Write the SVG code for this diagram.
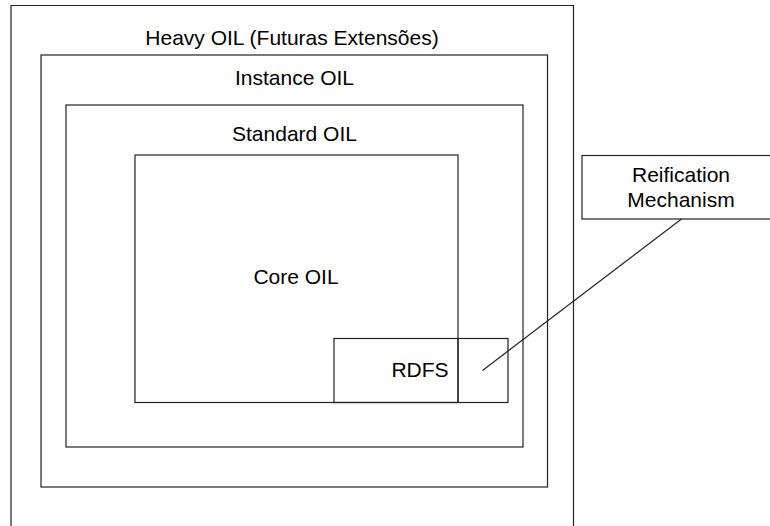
<svg xmlns="http://www.w3.org/2000/svg" width="770" height="526" viewBox="0 0 770 526">
<style>
.b{fill:none;stroke:#222;stroke-width:1.2}
.t{font-family:"Liberation Sans",Arial,sans-serif;font-size:21px;fill:#000;text-anchor:middle}
</style>
<rect width="770" height="526" fill="#fff"/>
<g id="heavy-oil">
<path class="b" d="M11,526 V5.5 H573.5 V526"/>
<text class="t" x="292" y="45">Heavy OIL (Futuras Extensões)</text>
</g>
<g id="instance-oil">
<rect class="b" x="41" y="55" width="506.5" height="432"/>
<text class="t" x="294.5" y="85">Instance OIL</text>
</g>
<g id="standard-oil">
<rect class="b" x="66" y="105" width="457" height="342"/>
<text class="t" x="294.5" y="141">Standard OIL</text>
</g>
<g id="core-oil">
<rect class="b" x="135" y="155" width="323" height="247.5"/>
<text class="t" x="296" y="284">Core OIL</text>
</g>
<g id="rdfs">
<rect class="b" x="334" y="338.5" width="174" height="64"/>
<line class="b" x1="458" y1="338.5" x2="458" y2="402.5"/>
<text class="t" x="420" y="377">RDFS</text>
</g>
<g id="reification">
<rect class="b" x="582" y="155.5" width="200" height="63.5"/>
<text class="t" x="681" y="182">Reification</text>
<text class="t" x="681" y="207">Mechanism</text>
</g>
<g id="connectors">
<line class="b" x1="482.5" y1="370.5" x2="681.5" y2="219"/>
</g>
</svg>
